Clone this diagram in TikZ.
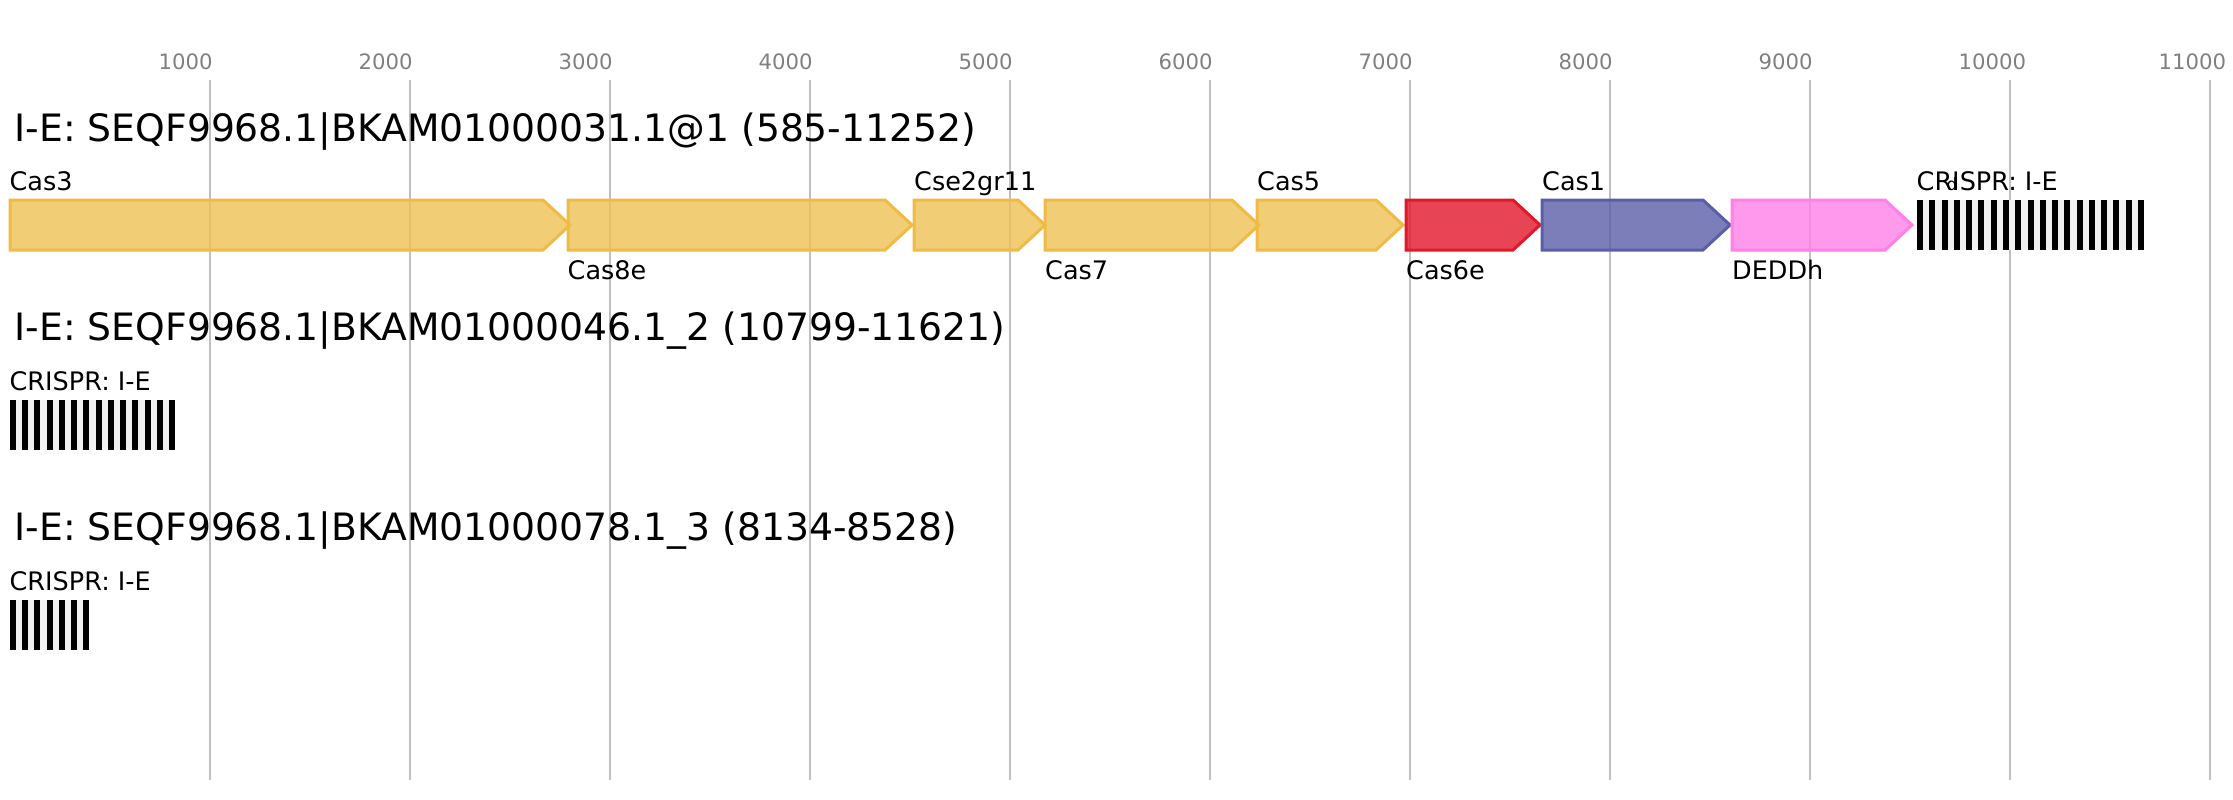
\documentclass[tikz,border=0pt]{standalone}
\usepackage{fontspec}
\setmainfont{DejaVu Sans}
\definecolor{gridgray}{HTML}{C0C0C0}
\definecolor{tickgray}{HTML}{808080}
\definecolor{casYfill}{HTML}{EEC154}
\definecolor{casYdraw}{HTML}{EFBB45}
\definecolor{casRdraw}{HTML}{E1172A}
\definecolor{casBdraw}{HTML}{5A5EA8}
\definecolor{casPdraw}{HTML}{FF80E6}
\definecolor{crisprbg}{HTML}{F0F0F0}
\tikzset{
  gridline/.style={draw=gridgray, line width=2},
  ticklabel/.style={anchor=base west, inner sep=0, text=tickgray, font=\fontsize{21.2}{24}\selectfont},
  titlelabel/.style={anchor=base west, inner sep=0, font=\fontsize{37.7}{40}\selectfont},
  genelabel/.style={anchor=base west, inner sep=0, font=\fontsize{25.5}{28}\selectfont},
  geneY/.style={draw=casYdraw, fill=casYfill, fill opacity=0.8, line width=3},
  geneR/.style={draw=casRdraw, fill=casRdraw, fill opacity=0.8, line width=3},
  geneB/.style={draw=casBdraw, fill=casBdraw, fill opacity=0.8, line width=3},
  geneP/.style={draw=casPdraw, fill=casPdraw, fill opacity=0.8, line width=3},
  repeatbar/.style={fill=black},
}
% start, end, top y, style
\newcommand{\genearrow}[4]{%
  \draw[#4] (#1,#3) -- ({#2-27},#3) -- (#2,{#3+25}) -- ({#2-27},{#3+50}) -- (#1,{#3+50}) -- cycle;}
% start, end, top y, number of repeats
\newcommand{\crisprarray}[4]{%
  \fill[crisprbg] (#1,#3) rectangle (#2,{#3+50});
  \pgfmathsetmacro{\crstep}{(#2-#1-6)/(#4-1)}
  \foreach \k in {1,...,#4} {\fill[repeatbar] ({#1+(\k-1)*\crstep},#3) rectangle ++(6,50);}}
\begin{document}
\begin{tikzpicture}[x=1pt, y=-1pt]
\useasboundingbox (0,0) rectangle (2233,800);
% grid and ticks
\foreach \v [count=\i] in {1000,2000,3000,4000,5000,6000,7000,8000,9000,10000,11000} {
  \draw[gridline] ({10+0.2*\v},80) -- ({10+0.2*\v},780);
  \node[ticklabel] (tick\i) at ({10+0.2*\v-51.5},70) {\v};
}
% row 1
\node[titlelabel] (title1) at (14.5,141) {I-E: SEQF9968.1|BKAM01000031.1@1 (585-11252)};
\genearrow{10}{570}{200}{geneY}
\genearrow{568}{912}{200}{geneY}
\genearrow{914}{1045}{200}{geneY}
\genearrow{1045}{1259}{200}{geneY}
\genearrow{1257}{1403}{200}{geneY}
\genearrow{1406}{1540}{200}{geneR}
\genearrow{1542}{1730}{200}{geneB}
\genearrow{1732}{1912}{200}{geneP}
\crisprarray{1917}{2144}{200}{19}
\node[genelabel] (lcas3) at (9.5,190) {Cas3};
\node[genelabel] (lcas8e) at (567.5,279) {Cas8e};
\node[genelabel] (lcse2) at (914,190) {Cse2gr11};
\node[genelabel] (lcas7) at (1045,279) {Cas7};
\node[genelabel] (lcas5) at (1257,190) {Cas5};
\node[genelabel] (lcas6e) at (1406,279) {Cas6e};
\node[genelabel] (lcas1) at (1542,190) {Cas1};
\node[genelabel] (ldeddh) at (1732,279) {DEDDh};
\node[genelabel] (lcr1) at (1916.5,190) {CRISPR: I-E};
\node[anchor=base west, inner sep=0, font=\fontsize{17}{18}\selectfont] (ld) at (1946.5,190) {d};
% row 2
\node[titlelabel] (title2) at (14.5,340) {I-E: SEQF9968.1|BKAM01000046.1\_2 (10799-11621)};
\node[genelabel] (lcr2) at (9.5,390) {CRISPR: I-E};
\crisprarray{10}{175}{400}{14}
% row 3
\node[titlelabel] (title3) at (14.5,540) {I-E: SEQF9968.1|BKAM01000078.1\_3 (8134-8528)};
\node[genelabel] (lcr3) at (9.5,590) {CRISPR: I-E};
\crisprarray{10}{89}{600}{7}
\end{tikzpicture}
\end{document}
